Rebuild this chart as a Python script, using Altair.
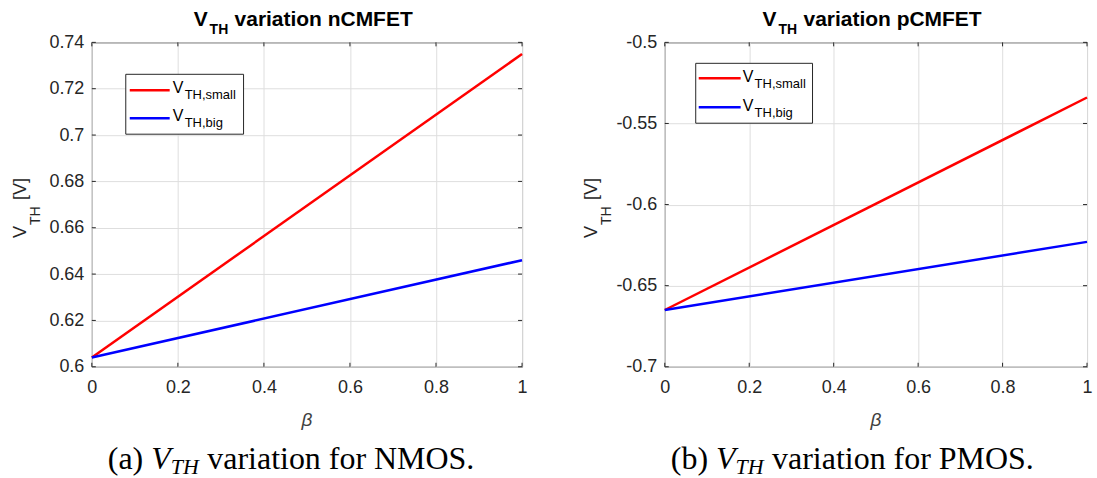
import altair as alt
import pandas as pd

# Threshold voltage against the coupling factor beta (two end points per line)
beta = [0.0, 1.0]
n_small = [0.604, 0.735]
n_big = [0.604, 0.646]
p_small = [-0.665, -0.534]
p_big = [-0.665, -0.623]

x_ticks = [0, 0.2, 0.4, 0.6, 0.8, 1]
n_ticks = [0.6, 0.62, 0.64, 0.66, 0.68, 0.7, 0.72, 0.74]
p_ticks = [-0.7, -0.65, -0.6, -0.55, -0.5]

series = ["small", "big"]
series_labels = ["TH,small", "TH,big"]
series_colors = ["#ff0000", "#0000ff"]

INK = "#262626"
GRID = "#dedede"
SANS = "Liberation Sans"
SERIF = "Liberation Serif"
H = 325
one = pd.DataFrame({"k": [0]})


def text(t, x, y, size, font=SANS, color="black", **kw):
    return alt.Chart(one).mark_text(
        text=t, align=kw.pop("align", "left"), baseline="alphabetic",
        fontSize=size, font=font, color=color, **kw
    ).encode(x=alt.value(x), y=alt.value(y))


def panel(width, small, big, ticks, title_word, cap_tag, cap_tag_w, cap_word,
          cap_x, legend, ylab_x, title_x, pin):
    df = pd.DataFrame({
        "beta": beta + beta,
        "vth": small + big,
        "series": [series[0]] * len(beta) + [series[1]] * len(beta),
    })
    xs = alt.Scale(domain=[0, 1], nice=False, zero=False)
    ys = alt.Scale(domain=[min(ticks), max(ticks)], nice=False, zero=False)
    xaxis = alt.Axis(values=x_ticks, format="~g", title=None, domain=False, ticks=False,
                     grid=True, gridColor=GRID, labelFont=SANS, labelFontSize=18,
                     labelColor=INK, labelPadding=12, labelFlush=False, labelOverlap=False)
    yaxis = alt.Axis(values=ticks, labelExpr="replace(format(datum.value, '.2~f'), '\u2212', '-')",
                     title=None, domain=False, ticks=False, grid=True, gridColor=GRID,
                     labelFont=SANS, labelFontSize=18, labelColor=INK, labelPadding=8,
                     labelOverlap=False)

    lines = alt.Chart(df).mark_line(strokeWidth=2.5).encode(
        x=alt.X("beta:Q", scale=xs, axis=xaxis),
        y=alt.Y("vth:Q", scale=ys, axis=yaxis),
        color=alt.Color("series:N", scale=alt.Scale(domain=series, range=series_colors), legend=None),
        detail="series:N",
    )

    # inward tick marks on all four sides of the box
    ty = pd.DataFrame({"vth": ticks})
    tx = pd.DataFrame({"beta": x_ticks})
    yenc = alt.Y("vth:Q", scale=ys, axis=yaxis)
    xenc = alt.X("beta:Q", scale=xs, axis=xaxis)
    tick_layers = [
        alt.Chart(ty).mark_rule(color=INK).encode(y=yenc, x=alt.value(0), x2=alt.value(4)),
        alt.Chart(ty).mark_rule(color=INK).encode(y=yenc, x=alt.value(width - 4), x2=alt.value(width)),
        alt.Chart(tx).mark_rule(color=INK).encode(x=xenc, y=alt.value(H - 4), y2=alt.value(H)),
        alt.Chart(tx).mark_rule(color=INK).encode(x=xenc, y=alt.value(0), y2=alt.value(4)),
    ]

    # legend box
    bx0, by0, bx1, by1 = legend["box"]
    lx0, lx1 = legend["line_x"]
    leg = [alt.Chart(one).mark_rect(fill="white", stroke=INK, strokeWidth=1).encode(
        x=alt.value(bx0), x2=alt.value(bx1), y=alt.value(by0), y2=alt.value(by1))]
    for i in range(len(series)):
        ly = legend["line_y"][i]
        base = legend["base"][i]
        leg.append(alt.Chart(one).mark_rule(color=series_colors[i], strokeWidth=2.5).encode(
            x=alt.value(lx0), x2=alt.value(lx1), y=alt.value(ly)))
        leg.append(text("V", legend["vx"], base, 16))
        leg.append(text(series_labels[i], legend["vx"] + 12, base + 6, 13))

    # panel title V_TH variation ...
    title = [
        text("V", title_x, -16, 21, fontWeight="bold"),
        text("TH", title_x + 16, -8, 14, fontWeight="bold"),
        text("variation " + title_word, title_x + 41, -16, 21, fontWeight="bold"),
    ]

    # rotated y label V_TH [V]
    ylab = [
        text("V", ylab_x, 196, 18, color=INK, angle=270),
        text("TH", ylab_x + 14, 183, 14, color=INK, angle=270),
        text("[V]", ylab_x, 158, 18, color=INK, angle=270),
    ]

    xlab = text("\u03b2", width / 2, 384, 19, color="#404040", align="center", fontStyle="italic")

    # sub-figure caption
    cy = 427
    cap = [
        text(cap_tag, cap_x, cy, 32, font=SERIF),
        text("V", cap_x + cap_tag_w, cy, 32, font=SERIF, fontStyle="italic"),
        text("TH", cap_x + cap_tag_w + 19.6, cy + 5, 22, font=SERIF, fontStyle="italic"),
        text("variation for " + cap_word, cap_x + cap_tag_w + 56.2, cy, 32, font=SERIF),
    ]

    px0, py0 = pin
    pin_mark = alt.Chart(one).mark_rect(opacity=0).encode(
        x=alt.value(px0), x2=alt.value(px0 + 1), y=alt.value(py0), y2=alt.value(py0 + 1))

    return alt.layer(lines, *tick_layers, *leg, *title, *ylab, xlab, *cap, pin_mark).properties(
        width=width, height=H)


left = panel(
    431, n_small, n_big, n_ticks, "nCMFET", "(a)", 43.5, "NMOS.", 16,
    legend={"box": (34, 32, 152, 92), "line_x": (38, 78), "line_y": [48, 76],
            "vx": 81, "base": [51, 79]},
    ylab_x=-66, title_x=102, pin=(-91, -41),
)
right = panel(
    423, p_small, p_big, p_ticks, "pCMFET", "(b)", 45.3, "PMOS.", 6,
    legend={"box": (31, 21, 148, 81), "line_x": (34, 76), "line_y": [36, 65],
            "vx": 78, "base": [40, 69]},
    ylab_x=-68, title_x=98, pin=(431, 436),
)

chart = alt.hconcat(left, right, spacing=143, bounds="flush").properties(
    padding=0
).configure_view(stroke=INK, strokeWidth=1)

chart.save("out.html", embed_options={"renderer": "svg", "actions": False})
